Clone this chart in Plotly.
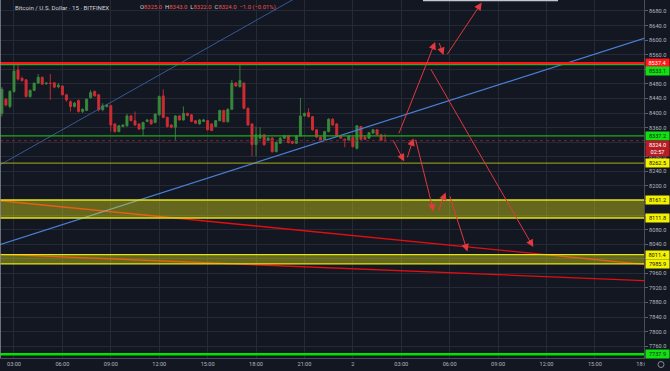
import pandas as pd
import plotly.graph_objects as go

# ---------------- data ----------------
opens = [8399, 8438, 8418, 8459, 8518, 8495, 8491, 8445, 8462, 8482,
         8498, 8480, 8482, 8483, 8472, 8474, 8450, 8431, 8418, 8434,
         8404, 8407, 8442, 8459, 8450, 8409, 8418, 8420, 8370, 8349,
         8363, 8365, 8392, 8379, 8370, 8356, 8377, 8381, 8374, 8395,
         8447, 8388, 8367, 8361, 8392, 8381, 8399, 8395, 8379, 8370,
         8377, 8379, 8370, 8363, 8379, 8407, 8376, 8410, 8482, 8472,
         8482, 8413, 8370, 8313, 8331, 8340, 8325, 8331, 8294, 8317,
         8331, 8337, 8322, 8317, 8337, 8392, 8401, 8390, 8354, 8334,
         8326, 8349, 8383, 8370, 8337, 8328, 8325, 8334, 8303, 8363,
         8334, 8331, 8345, 8354, 8340, 8325]
highs = [8471, 8441, 8463, 8535, 8535, 8500, 8493, 8465, 8483, 8507,
         8500, 8484, 8507, 8485, 8482, 8476, 8452, 8435, 8430, 8437,
         8413, 8440, 8463, 8462, 8452, 8427, 8425, 8423, 8372, 8367,
         8369, 8398, 8395, 8404, 8372, 8376, 8383, 8383, 8399, 8448,
         8465, 8390, 8369, 8394, 8394, 8418, 8401, 8397, 8381, 8383,
         8384, 8381, 8372, 8381, 8409, 8409, 8413, 8491, 8485, 8535,
         8485, 8415, 8372, 8363, 8361, 8342, 8334, 8334, 8322, 8334,
         8340, 8340, 8324, 8340, 8441, 8401, 8413, 8392, 8356, 8336,
         8351, 8386, 8386, 8372, 8339, 8330, 8340, 8336, 8367, 8365,
         8336, 8348, 8356, 8356, 8343, 8343]
lows = [8390, 8418, 8413, 8456, 8489, 8486, 8443, 8442, 8460, 8480,
        8477, 8478, 8436, 8468, 8468, 8448, 8431, 8404, 8415, 8401,
        8400, 8405, 8440, 8445, 8404, 8405, 8415, 8349, 8346, 8347,
        8361, 8362, 8377, 8365, 8353, 8337, 8375, 8368, 8372, 8393,
        8386, 8360, 8358, 8326, 8379, 8379, 8391, 8375, 8370, 8368,
        8375, 8352, 8350, 8361, 8377, 8374, 8374, 8408, 8472, 8470,
        8410, 8365, 8281, 8281, 8328, 8310, 8322, 8291, 8292, 8315,
        8329, 8316, 8315, 8315, 8335, 8390, 8388, 8351, 8331, 8323,
        8324, 8347, 8365, 8334, 8329, 8306, 8323, 8305, 8300, 8326,
        8326, 8329, 8343, 8338, 8323, 8322]
closes = [8465, 8422, 8459, 8515, 8493, 8489, 8445, 8462, 8482, 8498,
          8479, 8482, 8481, 8471, 8476, 8450, 8436, 8418, 8427, 8404,
          8410, 8438, 8456, 8447, 8409, 8420, 8422, 8367, 8349, 8365,
          8367, 8392, 8379, 8367, 8356, 8374, 8381, 8370, 8397, 8445,
          8388, 8363, 8361, 8392, 8381, 8399, 8393, 8377, 8372, 8381,
          8381, 8354, 8352, 8379, 8407, 8376, 8410, 8482, 8474, 8489,
          8413, 8367, 8313, 8340, 8340, 8313, 8331, 8294, 8319, 8331,
          8337, 8319, 8317, 8337, 8392, 8399, 8390, 8354, 8334, 8326,
          8349, 8383, 8367, 8337, 8331, 8326, 8337, 8308, 8365, 8328,
          8328, 8346, 8354, 8340, 8325, 8324]
bar_times = pd.date_range("2019-06-01 02:15", periods=len(opens), freq="15min")

x_tick_times = ["2019-06-01 03:00", "2019-06-01 06:00", "2019-06-01 09:00",
                "2019-06-01 12:00", "2019-06-01 15:00", "2019-06-01 18:00",
                "2019-06-01 21:00", "2019-06-02 00:00", "2019-06-02 03:00",
                "2019-06-02 06:00", "2019-06-02 09:00", "2019-06-02 12:00",
                "2019-06-02 15:00", "2019-06-02 18:00"]
x_tick_labels = ["03:00", "06:00", "09:00", "12:00", "15:00", "18:00", "21:00",
                 "2", "03:00", "06:00", "09:00", "12:00", "15:00", "18:00"]

y_ticks = [7760, 7800, 7840, 7880, 7920, 7960, 8000, 8040, 8080, 8120, 8160,
           8200, 8240, 8280, 8320, 8360, 8400, 8440, 8480, 8520, 8560, 8600,
           8640, 8680]
y_hidden_ticks = [8000, 8120, 8160, 8320, 8520]

# horizontal levels
level_red = 8537.4
level_green_top = 8533.1
level_green_mid = 8337.2
level_yellow = 8262.5
band_upper = [8111.8, 8161.2]
band_lower = [7985.9, 8011.4]
level_green_bottom = 7737.9
countdown = "02:57"

# trend lines (anchor points)
blue_main_t = ["2019-06-01 02:00", "2019-06-02 18:30"]
blue_main_p = [8037.2, 8611.5]
blue_thin_t = ["2019-06-01 02:00", "2019-06-01 21:00"]
blue_thin_p = [8254.3, 8729.0]
red_a_t = ["2019-06-01 02:00", "2019-06-02 18:30"]
red_a_p = [8159.9, 7982.7]
red_b_t = ["2019-06-01 02:00", "2019-06-02 18:30"]
red_b_p = [8012.3, 7939.2]

# projected-path arrows: (tail time, tail price, head time, head price)
arrow_tail_t = ["2019-06-02 02:49", "2019-06-02 05:19", "2019-06-02 05:47",
                "2019-06-02 04:47", "2019-06-02 02:27", "2019-06-02 03:21",
                "2019-06-02 03:52", "2019-06-02 05:16", "2019-06-02 05:59"]
arrow_tail_p = [8340, 8596, 8557, 8524, 8329, 8274, 8331, 8128, 8176]
arrow_head_t = ["2019-06-02 05:06", "2019-06-02 05:37", "2019-06-02 07:59",
                "2019-06-02 11:11", "2019-06-02 03:11", "2019-06-02 03:45",
                "2019-06-02 05:00", "2019-06-02 05:45", "2019-06-02 07:06"]
arrow_head_p = [8595, 8559, 8703, 8032, 8267, 8331, 8130, 8182, 8020]

x_range = ["2019-06-01 02:08", "2019-06-02 18:02:30"]
y_range = [7727.7, 8710.1]

# ---------------- figure ----------------
BG = "#131722"
GRID = "#252a36"
TXT = "#b2b5be"
FONT = "Roboto, 'Noto Sans', sans-serif"

fig = go.Figure()

fig.add_trace(go.Candlestick(
    x=bar_times, open=opens, high=highs, low=lows, close=closes,
    increasing=dict(line=dict(color="#39893c", width=0.9), fillcolor="#39893c"),
    decreasing=dict(line=dict(color="#cf2c33", width=0.9), fillcolor="#cf2c33"),
    whiskerwidth=0, hoverinfo="skip", showlegend=False))

def add_line(t, p, color, width):
    fig.add_trace(go.Scatter(x=t, y=p, mode="lines", line=dict(color=color, width=width),
                             hoverinfo="skip", showlegend=False))

add_line(red_a_t, red_a_p, "#e30e0e", 1.4)
add_line(red_b_t, red_b_p, "#e30e0e", 1.4)
add_line(blue_main_t, blue_main_p, "#4a80d8", 1.2)
add_line(blue_thin_t, blue_thin_p, "#3d69b3", 0.8)

shapes = []
for lo, hi in (band_upper, band_lower):
    shapes.append(dict(type="rect", xref="paper", x0=0, x1=1, yref="y", y0=lo, y1=hi,
                       fillcolor="rgba(235,235,20,0.38)", line=dict(width=0), layer="above"))
    for v in (lo, hi):
        shapes.append(dict(type="line", xref="paper", x0=0, x1=1, yref="y", y0=v, y1=v,
                           line=dict(color="#e2e21a", width=1.4), layer="above"))

def hline(v, color, width, dash="solid"):
    shapes.append(dict(type="line", xref="paper", x0=0, x1=1, yref="y", y0=v, y1=v,
                       line=dict(color=color, width=width, dash=dash), layer="above"))

hline(closes[-1], "#7d2630", 1, "dot")
hline(level_yellow, "#a9a91e", 1)
hline(level_green_mid, "#1fa81f", 1.3)
hline(level_green_top, "#3f9f2a", 1.6)
hline(level_red, "#ff1414", 2)
hline(level_green_bottom, "#00e400", 2.6)

# left frame edge & top tooltip edge
shapes.append(dict(type="line", xref="paper", yref="paper", x0=0, x1=0, y0=0, y1=1,
                   line=dict(color="#8c8f99", width=1.5), layer="above"))
shapes.append(dict(type="line", xref="paper", yref="paper", x0=423 / 644, x1=558 / 644,
                   y0=1, y1=1, line=dict(color="#c3c6ce", width=2.5), layer="above"))
# mask the clipped time label under the price scale
shapes.append(dict(type="rect", xref="paper", yref="paper", x0=1.0015, x1=1.06, y0=-0.06, y1=-0.001,
                   fillcolor=BG, line=dict(width=0), layer="above"))
# gear icon
shapes.append(dict(type="circle", xref="paper", yref="paper", x0=1 + 14 / 644, x1=1 + 20 / 644,
                   y0=-9.5 / 358, y1=-3.5 / 358, line=dict(color="#868993", width=1), layer="above"))

annotations = []
for ht, hp, tt, tp in zip(arrow_head_t, arrow_head_p, arrow_tail_t, arrow_tail_p):
    annotations.append(dict(x=ht, y=hp, ax=tt, ay=tp, xref="x", yref="y", axref="x", ayref="y",
                            showarrow=True, arrowhead=2, arrowsize=1.5, arrowwidth=1,
                            arrowcolor="#e0393e", text="", standoff=0, startstandoff=0))

def price_label(v, text, bg, fg, yshift=0):
    annotations.append(dict(x=1, xref="paper", xanchor="left", xshift=1, y=v, yref="y",
                            yanchor="middle", yshift=yshift, text=text, showarrow=False,
                            bgcolor=bg, font=dict(family=FONT, size=5.6, color=fg),
                            width=21, height=6, borderpad=1, align="center"))

price_label(level_red, f"{level_red:.1f}", "#ff1a1a", "#ffffff")
price_label(level_green_top, f"{level_green_top:.1f}", "#12e012", "#0b2a0b", -6.3)
price_label(level_green_mid, f"{level_green_mid:.1f}", "#12e012", "#0b2a0b")
price_label(closes[-1], f"{closes[-1]:.1f}", "#b71c24", "#ffffff", -3.8)
price_label(closes[-1], countdown, "#b71c24", "#ffffff", -11.3)
price_label(level_yellow, f"{level_yellow:.1f}", "#f2f200", "#111111")
for v in band_upper[::-1] + band_lower[::-1]:
    price_label(v, f"{v:.1f}", "#f2f200", "#111111")
price_label(level_green_bottom, f"{level_green_bottom:.1f}", "#12e012", "#0b2a0b")

# header
RED = "#ef5350"
chg = closes[-1] - closes[-2]
pct = chg / closes[-2] * 100
ohlc = (f"O<span style='color:{RED}'>{opens[-1]:.1f}</span>  "
        f"H<span style='color:{RED}'>{highs[-1]:.1f}</span>  "
        f"L<span style='color:{RED}'>{lows[-1]:.1f}</span>  "
        f"C<span style='color:{RED}'>{closes[-1]:.1f}</span>  "
        f"<span style='color:{RED}'>{chg:+.1f} ({pct:+.2f}%)</span>").replace("-", "\u2212")
annotations.append(dict(x=0, y=1, xref="paper", yref="paper", xanchor="left", yanchor="top",
                        xshift=13, yshift=-1.5, showarrow=False,
                        text="Bitcoin / U.S. Dollar · 15 · BITFINEX",
                        font=dict(family=FONT, size=6.1, color="#d1d4dc")))
annotations.append(dict(x=0, y=1, xref="paper", yref="paper", xanchor="left", yanchor="top",
                        xshift=138, yshift=-1.5, showarrow=False, text=ohlc,
                        font=dict(family=FONT, size=5.9, color="#d1d4dc")))

y_text = [("" if v in y_hidden_ticks else f"{v:.1f}") for v in y_ticks]

fig.update_layout(
    width=670, height=371, margin=dict(l=0, r=26, t=0, b=13),
    paper_bgcolor=BG, plot_bgcolor=BG, showlegend=False,
    font=dict(family=FONT, color=TXT, size=6),
    boxgap=0.28, shapes=shapes, annotations=annotations,
    xaxis=dict(type="date", range=x_range, tickvals=x_tick_times, ticktext=x_tick_labels,
               showgrid=True, gridcolor=GRID, gridwidth=1, zeroline=False,
               showline=True, linecolor="#4a4d58", linewidth=1, ticks="",
               tickfont=dict(family=FONT, size=5.6, color=TXT),
               rangeslider=dict(visible=False), fixedrange=True),
    yaxis=dict(side="right", range=y_range, tickvals=y_ticks, ticktext=y_text,
               showgrid=True, gridcolor=GRID, gridwidth=1, zeroline=False,
               showline=True, linecolor="#4a4d58", linewidth=1,
               ticks="outside", ticklen=3, tickcolor="#5d606b",
               tickfont=dict(family=FONT, size=5.6, color=TXT), fixedrange=True),
)

fig.write_html(
    "out.html",
    config={"displayModeBar": False},
    post_script="document.body.style.margin='0';document.body.style.padding='0';"
                "document.body.style.overflow='hidden';"
                "document.body.style.background='#131722';",
)
